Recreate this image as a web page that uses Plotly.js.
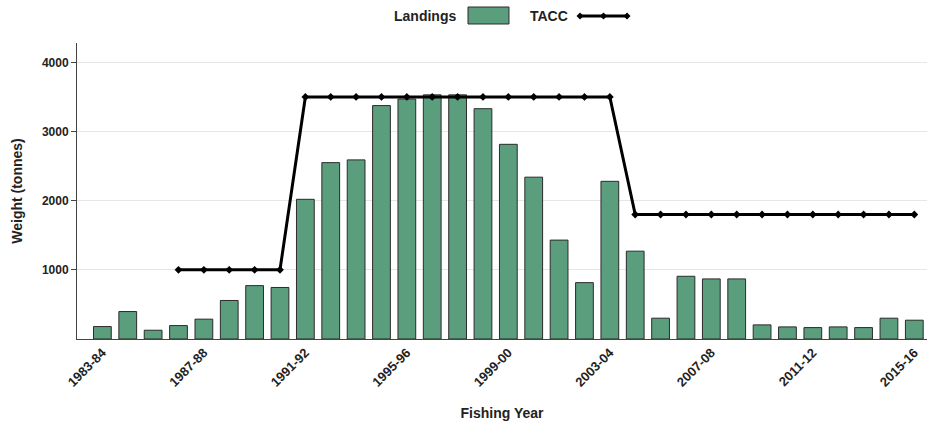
<!DOCTYPE html>
<html>
<head>
<meta charset="utf-8">
<script src="https://cdn.plot.ly/plotly-3.0.1.min.js"></script>
<style>
  html, body { margin: 0; padding: 0; background: #fff; }
  #chart { width: 930px; height: 425px; }
</style>
</head>
<body>
<div id="chart"></div>
<script>
// Fishing years, 1983-84 to 2015-16
const years = [
  "1983-84","1984-85","1985-86","1986-87","1987-88","1988-89","1989-90","1990-91",
  "1991-92","1992-93","1993-94","1994-95","1995-96","1996-97","1997-98","1998-99",
  "1999-00","2000-01","2001-02","2002-03","2003-04","2004-05","2005-06","2006-07",
  "2007-08","2008-09","2009-10","2010-11","2011-12","2012-13","2013-14","2014-15",
  "2015-16"
];

// Reported landings (tonnes)
const landings = [
  180, 397, 127, 194, 287, 557, 772, 745,
  2020, 2550, 2590, 3375, 3470, 3530, 3530, 3330,
  2815, 2340, 1430, 815, 2280, 1270, 301, 907,
  869, 869, 204, 175, 165, 175, 165, 301,
  272
];

// Total allowable commercial catch (tonnes)
const tacc = [
  null, null, null, 1000, 1000, 1000, 1000, 1000,
  3500, 3500, 3500, 3500, 3500, 3500, 3500, 3500,
  3500, 3500, 3500, 3500, 3500, 1800, 1800, 1800,
  1800, 1800, 1800, 1800, 1800, 1800, 1800, 1800,
  1800
];

// Labelled ticks on the x axis
const tickYears = ["1983-84","1987-88","1991-92","1995-96","1999-00","2003-04","2007-08","2011-12","2015-16"];

const barColor = "#5b9e7d";
const textColor = "#222222";
const fontFamily = "Liberation Sans, Arial, sans-serif";

const traces = [
  {
    type: "bar",
    name: "Landings",
    x: years,
    y: landings,
    width: 0.7,
    marker: { color: barColor, line: { color: "#2b2b2b", width: 1 } },
    showlegend: false,
    hoverinfo: "x+y"
  },
  {
    type: "scatter",
    mode: "lines+markers",
    name: "TACC",
    x: years,
    y: tacc,
    line: { color: "#000000", width: 3 },
    marker: { color: "#000000", size: 6, symbol: "diamond" },
    connectgaps: false,
    showlegend: false,
    hoverinfo: "x+y"
  }
];

// Legend drawn by hand: label first, then its symbol
function diamond(xp, yp) {
  return {
    type: "path", xref: "paper", yref: "paper",
    xsizemode: "pixel", ysizemode: "pixel",
    xanchor: xp, yanchor: yp,
    path: "M -3.5 0 L 0 -3.5 L 3.5 0 L 0 3.5 Z",
    fillcolor: "#000", line: { color: "#000", width: 0 }
  };
}

const legendY = 1.091;
const shapes = [
  {
    type: "rect", xref: "paper", yref: "paper",
    x0: 0.4600, x1: 0.5082, y0: 1.0642, y1: 1.1216,
    fillcolor: barColor, line: { color: "#2b2b2b", width: 1 }
  },
  {
    type: "line", xref: "paper", yref: "paper",
    x0: 0.5918, x1: 0.6471, y0: legendY, y1: legendY,
    line: { color: "#000", width: 3 }
  },
  diamond(0.5918, legendY),
  diamond(0.6194, legendY),
  diamond(0.6471, legendY)
];

const annotations = [
  {
    xref: "paper", yref: "paper", x: 0.4482, y: legendY,
    xanchor: "right", yanchor: "middle", showarrow: false,
    text: "Landings",
    font: { family: fontFamily, size: 14, color: textColor, weight: "bold" }
  },
  {
    xref: "paper", yref: "paper", x: 0.5306, y: legendY,
    xanchor: "left", yanchor: "middle", showarrow: false,
    text: "TACC",
    font: { family: fontFamily, size: 14, color: textColor, weight: "bold" }
  }
];

const layout = {
  width: 930,
  height: 425,
  margin: { l: 77, r: 3, t: 43, b: 86 },
  paper_bgcolor: "#ffffff",
  plot_bgcolor: "#ffffff",
  font: { family: fontFamily, color: textColor },
  showlegend: false,
  bargap: 0.3,
  xaxis: {
    type: "category",
    categoryorder: "array",
    categoryarray: years,
    range: [-1, 32.5],
    tickmode: "array",
    tickvals: tickYears,
    ticktext: tickYears,
    tickangle: -45,
    ticks: "",
    showgrid: false,
    showline: true,
    linecolor: "#444444",
    linewidth: 1,
    zeroline: false,
    tickfont: { family: fontFamily, size: 13, color: textColor, weight: "bold" },
    title: {
      text: "Fishing Year",
      standoff: 19,
      font: { family: fontFamily, size: 14, color: textColor, weight: "bold" }
    },
    automargin: false,
    fixedrange: true
  },
  yaxis: {
    range: [0, 4280],
    tickvals: [1000, 2000, 3000, 4000],
    ticks: "outside",
    ticklen: 5,
    tickcolor: "#444444",
    showgrid: true,
    gridcolor: "#e6e6e6",
    gridwidth: 1,
    showline: true,
    linecolor: "#444444",
    linewidth: 1,
    zeroline: false,
    tickfont: { family: fontFamily, size: 12, color: textColor, weight: "bold" },
    title: {
      text: "Weight (tonnes)",
      standoff: 15,
      font: { family: fontFamily, size: 14, color: textColor, weight: "bold" }
    },
    automargin: false,
    fixedrange: true
  },
  shapes: shapes,
  annotations: annotations
};

Plotly.newPlot("chart", traces, layout, { displayModeBar: false, staticPlot: true });
</script>
</body>
</html>
